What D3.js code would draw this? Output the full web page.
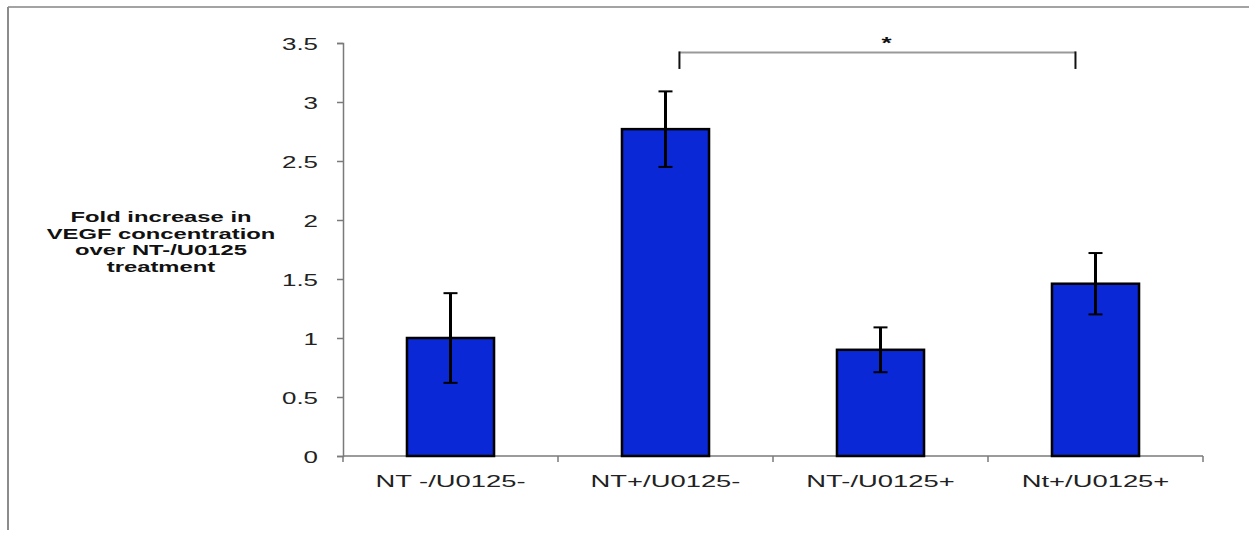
<!DOCTYPE html>
<html>
<head>
<meta charset="utf-8">
<script src="https://cdn.jsdelivr.net/npm/d3@7"></script>
<style>
  body { margin: 0; background: #fff; }
  svg { display: block; font-family: "Liberation Sans", Arial, sans-serif; }
</style>
</head>
<body>
<div id="chart"></div>
<script>
// data
var categories = ["NT -/U0125-", "NT+/U0125-", "NT-/U0125+", "Nt+/U0125+"];
var means = [1.00, 2.77, 0.90, 1.46];
var errors = [0.38, 0.32, 0.19, 0.26];
var yTicks = [0, 0.5, 1, 1.5, 2, 2.5, 3, 3.5];
var yTitle = ["Fold increase in", "VEGF concentration", "over NT-/U0125", "treatment"];
var bracket = { from: "NT+/U0125-", to: "Nt+/U0125+", level: 3.42, drop: 0.14, label: "*" };

var width = 1249, height = 535;
var SX = 1.62; // the original picture is stretched sideways, text too

var svg = d3.select("#chart").append("svg")
    .attr("width", width)
    .attr("height", height);

// frame
svg.append("line").attr("x1", 8).attr("x2", width).attr("y1", 7).attr("y2", 7)
    .attr("stroke", "#a3a3a3").attr("stroke-width", 2);
svg.append("line").attr("x1", 8).attr("x2", 8).attr("y1", 7).attr("y2", 530)
    .attr("stroke", "#8c8c8c").attr("stroke-width", 2);

var x = d3.scaleBand()
    .domain(categories)
    .range([343, 1203])
    .paddingInner(0.595)
    .paddingOuter(0.2975);

var y = d3.scaleLinear()
    .domain([0, 3.5])
    .range([456, 43]);

// y axis
var yAxis = svg.append("g")
    .attr("transform", "translate(343,0)")
    .call(d3.axisLeft(y).tickValues(yTicks).tickSize(6).tickFormat(d3.format("")));
yAxis.select(".domain").attr("stroke", "#7a7a7a").attr("stroke-width", 1.5);
yAxis.selectAll(".tick line").attr("stroke", "#7a7a7a").attr("stroke-width", 1.5);
yAxis.selectAll(".tick text")
    .attr("x", null).attr("dy", null)
    .attr("transform", "translate(-25,6) scale(" + SX + ",1)")
    .attr("font-size", 16)
    .attr("font-family", "Liberation Sans, Arial, sans-serif")
    .attr("fill", "#222");

// x axis: baseline with ticks on category boundaries
var step = x.step();
var bounds = categories.map(function (c) { return x(c) - x.paddingInner() * step / 2; });
bounds.push(bounds[bounds.length - 1] + step);

svg.append("line")
    .attr("x1", bounds[0]).attr("x2", bounds[bounds.length - 1])
    .attr("y1", y(0)).attr("y2", y(0))
    .attr("stroke", "#7a7a7a").attr("stroke-width", 1.5);
svg.selectAll("line.xtick")
    .data(bounds)
    .enter().append("line")
    .attr("class", "xtick")
    .attr("x1", d => d).attr("x2", d => d)
    .attr("y1", y(0)).attr("y2", y(0) + 6)
    .attr("stroke", "#7a7a7a").attr("stroke-width", 1.5);

svg.selectAll("text.xlab")
    .data(categories)
    .enter().append("text")
    .attr("class", "xlab")
    .attr("text-anchor", "middle")
    .attr("font-size", 16.5)
    .attr("fill", "#222")
    .attr("transform", d => "translate(" + (x(d) + x.bandwidth() / 2) + "," + (y(0) + 31) + ") scale(" + (SX + 0.04) + ",1)")
    .text(d => d);

// y title
svg.append("text")
    .attr("text-anchor", "middle")
    .attr("font-size", 14)
    .attr("font-weight", "bold")
    .attr("fill", "#111")
    .attr("transform", "translate(161,222) scale(" + (SX + 0.08) + ",1)")
    .selectAll("tspan")
    .data(yTitle)
    .enter().append("tspan")
    .attr("x", 0)
    .attr("y", (d, i) => i * 16.7)
    .text(d => d);

// bars
svg.selectAll("rect.bar")
    .data(categories)
    .enter().append("rect")
    .attr("class", "bar")
    .attr("x", d => x(d))
    .attr("width", x.bandwidth())
    .attr("y", (d, i) => y(means[i]))
    .attr("height", (d, i) => y(0) - y(means[i]))
    .attr("fill", "#0a28d6")
    .attr("stroke", "#000")
    .attr("stroke-width", 2.5);

// error bars
var eb = svg.selectAll("g.err")
    .data(categories)
    .enter().append("g")
    .attr("class", "err");
eb.append("line")
    .attr("x1", d => x(d) + x.bandwidth() / 2)
    .attr("x2", d => x(d) + x.bandwidth() / 2)
    .attr("y1", (d, i) => y(means[i] + errors[i]))
    .attr("y2", (d, i) => y(means[i] - errors[i]))
    .attr("stroke", "#000").attr("stroke-width", 3);
[1, -1].forEach(function (sgn) {
    eb.append("line")
        .attr("x1", d => x(d) + x.bandwidth() / 2 - 7)
        .attr("x2", d => x(d) + x.bandwidth() / 2 + 7)
        .attr("y1", (d, i) => y(means[i] + sgn * errors[i]))
        .attr("y2", (d, i) => y(means[i] + sgn * errors[i]))
        .attr("stroke", "#000").attr("stroke-width", 2);
});

// significance bracket
var bx1 = x(bracket.from) + x.bandwidth() * 0.66;
var bx2 = x(bracket.to) + x.bandwidth() * 0.27;
svg.append("line")
    .attr("x1", bx1).attr("x2", bx2)
    .attr("y1", y(bracket.level)).attr("y2", y(bracket.level))
    .attr("stroke", "#999").attr("stroke-width", 2);
[bx1, bx2].forEach(function (bx) {
    svg.append("line")
        .attr("x1", bx).attr("x2", bx)
        .attr("y1", y(bracket.level) - 1).attr("y2", y(bracket.level - bracket.drop))
        .attr("stroke", "#111").attr("stroke-width", 2);
});
svg.append("text")
    .attr("text-anchor", "middle")
    .attr("font-size", 16)
    .attr("font-weight", "bold")
    .attr("fill", "#111")
    .attr("transform", "translate(" + ((bx1 + bx2) / 2 + 9) + "," + (y(bracket.level) - 3) + ") scale(" + SX + ",1)")
    .text(bracket.label);
</script>
</body>
</html>
